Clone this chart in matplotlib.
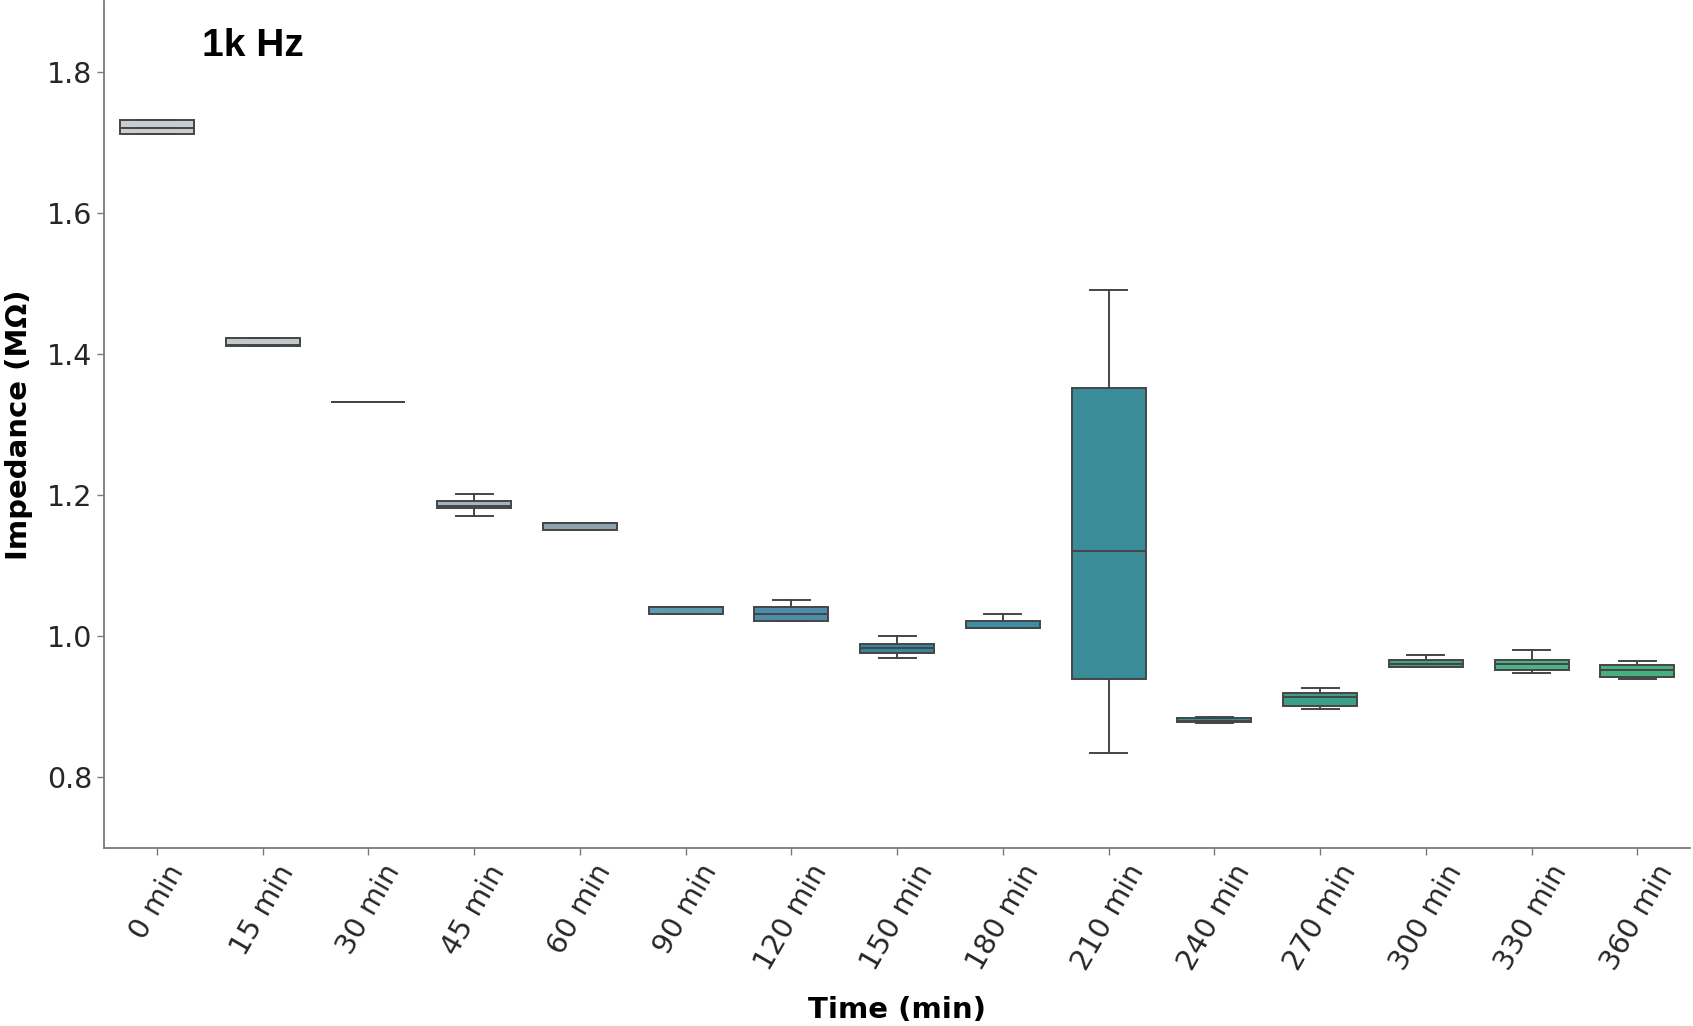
import matplotlib
matplotlib.use("Agg")
import matplotlib.pyplot as plt

# box statistics (MOhm)
times = ["0 min", "15 min", "30 min", "45 min", "60 min", "90 min", "120 min",
         "150 min", "180 min", "210 min", "240 min", "270 min", "300 min",
         "330 min", "360 min"]
whislo = [1.711, 1.411, 1.332, 1.171, 1.151, 1.031, 1.021, 0.969, 1.011, 0.834, 0.877, 0.897, 0.957, 0.948, 0.940]
q1     = [1.711, 1.411, 1.332, 1.181, 1.151, 1.031, 1.021, 0.976, 1.011, 0.939, 0.878, 0.901, 0.957, 0.952, 0.942]
med    = [1.720, 1.412, 1.332, 1.185, 1.160, 1.041, 1.032, 0.983, 1.012, 1.121, 0.880, 0.914, 0.961, 0.960, 0.952]
q3     = [1.731, 1.422, 1.332, 1.191, 1.161, 1.042, 1.042, 0.989, 1.022, 1.352, 0.884, 0.919, 0.966, 0.967, 0.959]
whishi = [1.731, 1.422, 1.332, 1.201, 1.161, 1.042, 1.052, 1.001, 1.032, 1.491, 0.886, 0.927, 0.973, 0.980, 0.965]

palette = ["#c7cdd1", "#c2c9cd", "#b5c0c6", "#a4b5c0", "#8fa3ae", "#5d9bb1", "#4e8cab",
           "#37879b", "#3a8ea6", "#3b8c99", "#3c8f98", "#3aa08a", "#43a487", "#4bb388", "#46b080"]

plt.rcParams['font.family'] = ['DejaVu Sans']

fig = plt.figure(figsize=(16.93, 10.26), dpi=100)
ax = fig.add_axes([0.0614, 0.1735, 0.937, 0.8255])

stats = []
for i in range(len(times)):
    stats.append({"label": times[i], "whislo": whislo[i], "q1": q1[i], "med": med[i],
                  "q3": q3[i], "whishi": whishi[i], "fliers": []})

edge = "#454545"
bp = ax.bxp(stats, positions=range(len(times)), widths=0.7, capwidths=0.35,
            patch_artist=True, showfliers=False,
            boxprops=dict(edgecolor=edge, linewidth=1.4),
            medianprops=dict(color=edge, linewidth=1.4),
            whiskerprops=dict(color=edge, linewidth=1.4),
            capprops=dict(color=edge, linewidth=1.4))
for patch, c in zip(bp["boxes"], palette):
    patch.set_facecolor(c)

ax.set_xlim(-0.5, 14.5)
ax.set_ylim(0.70, 1.90)
ax.set_yticks([0.8, 1.0, 1.2, 1.4, 1.6, 1.8])
ax.set_yticklabels(["0.8", "1.0", "1.2", "1.4", "1.6", "1.8"])
ax.set_xticks(range(len(times)))
ax.set_xticklabels(times, rotation=60, ha="center")

for s in ["top", "right"]:
    ax.spines[s].set_visible(False)
for s in ["left", "bottom"]:
    ax.spines[s].set_color("#7a7a7a")
    ax.spines[s].set_linewidth(1.3)
ax.tick_params(axis="both", labelsize=20.5, colors="#7a7a7a", labelcolor="#262626", length=5, width=1)

ax.set_xlabel("Time (min)", fontsize=21, fontweight="bold", labelpad=15)
ax.set_ylabel("Impedance (M\u03a9)", fontsize=21, fontweight="bold", labelpad=10)
ax.text(0.062, 0.935, "1k Hz", transform=ax.transAxes, fontsize=28, fontweight="bold",
        family=["Liberation Sans", "DejaVu Sans"])

fig.savefig("out.png", dpi=100)
